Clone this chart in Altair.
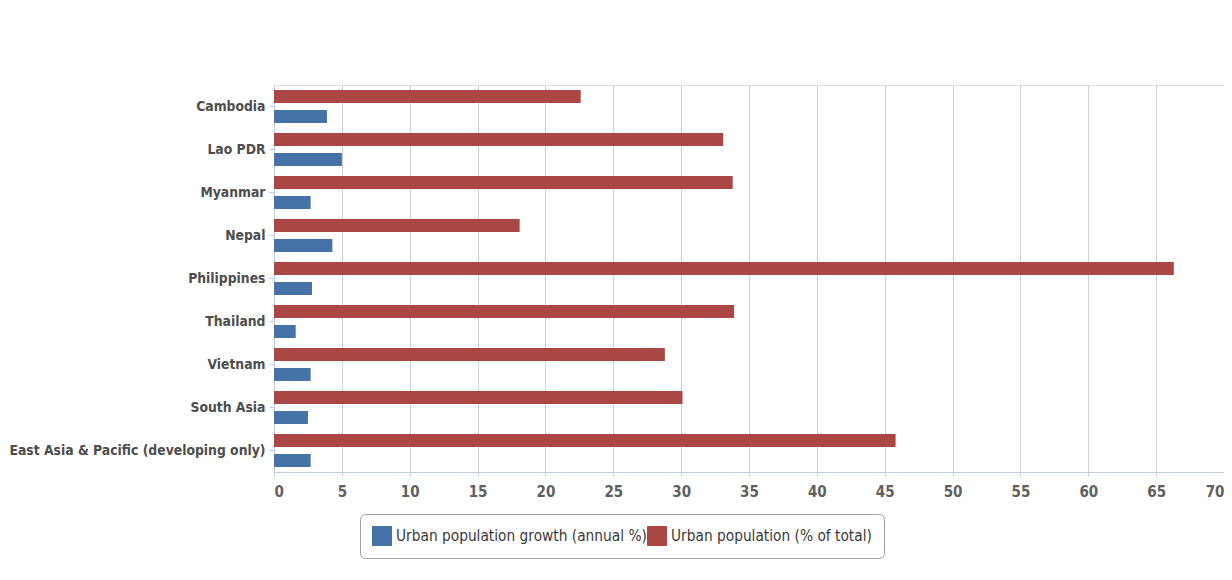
import altair as alt
import pandas as pd

countries = [
    "Cambodia",
    "Lao PDR",
    "Myanmar",
    "Nepal",
    "Philippines",
    "Thailand",
    "Vietnam",
    "South Asia",
    "East Asia & Pacific (developing only)",
]
urban_pct = [22.6, 33.1, 33.8, 18.1, 66.3, 33.9, 28.8, 30.1, 45.8]
urban_growth = [3.9, 5.0, 2.7, 4.3, 2.8, 1.6, 2.7, 2.5, 2.7]

s_growth = "Urban population growth (annual %)"
s_pct = "Urban population (% of total)"
x_ticks = list(range(0, 75, 5))

rows = []
for c, g, p in zip(countries, urban_growth, urban_pct):
    rows.append({"country": c, "series": s_pct, "value": p})
    rows.append({"country": c, "series": s_growth, "value": g})
df = pd.DataFrame(rows)

FONT = "DejaVu Sans Condensed, DejaVu Sans, sans-serif"

chart = (
    alt.Chart(df)
    .mark_bar()
    .encode(
        x=alt.X(
            "value:Q",
            title=None,
            scale=alt.Scale(domain=[0, 70], nice=False, zero=True),
            axis=alt.Axis(
                values=x_ticks,
                grid=True,
                gridColor="#d0d0d0",
                domainColor="#c0d0e0",
                tickColor="#c0d0e0",
                tickSize=4,
                labelPadding=8,
                labelFont=FONT,
                labelFontSize=15,
                labelFontWeight="bold",
                labelColor="#606060",
                labelFlush=True,
            ),
        ),
        y=alt.Y(
            "country:N",
            sort=countries,
            title=None,
            scale=alt.Scale(paddingInner=0.234, paddingOuter=0.117),
            axis=alt.Axis(
                grid=False,
                domainColor="#c0d0e0",
                tickColor="#c0d0e0",
                tickSize=5,
                labelPadding=4,
                labelFont=FONT,
                labelFontSize=13.8,
                labelFontWeight="bold",
                labelColor="#4d4d4d",
                labelLimit=0,
            ),
        ),
        yOffset=alt.YOffset(
            "series:N",
            sort=[s_pct, s_growth],
            scale=alt.Scale(paddingInner=0.35, paddingOuter=0),
        ),
        color=alt.Color(
            "series:N",
            scale=alt.Scale(domain=[s_growth, s_pct], range=["#4572A7", "#AA4643"]),
            legend=alt.Legend(
                title=None,
                orient="none",
                legendX=86,
                legendY=429,
                direction="horizontal",
                symbolType="square",
                symbolSize=400,
                symbolStrokeWidth=0,
                symbolOpacity=1,
                labelFont=FONT,
                labelFontSize=15.3,
                labelColor="#3a3a3a",
                labelLimit=0,
                columnPadding=0,
                padding=12,
                strokeColor="#a0a0a0",
                fillColor="#ffffff",
                cornerRadius=5,
            ),
        ),
    )
    .properties(
        width=950,
        height=387,
        autosize=alt.AutoSizeParams(type="none"),
        padding={"left": 266, "top": 77, "right": 0, "bottom": 100},
    )
    .configure_view(stroke=None)
    .configure(background="#ffffff")
)

chart.save("out.html", embed_options={"renderer": "svg", "actions": False})
